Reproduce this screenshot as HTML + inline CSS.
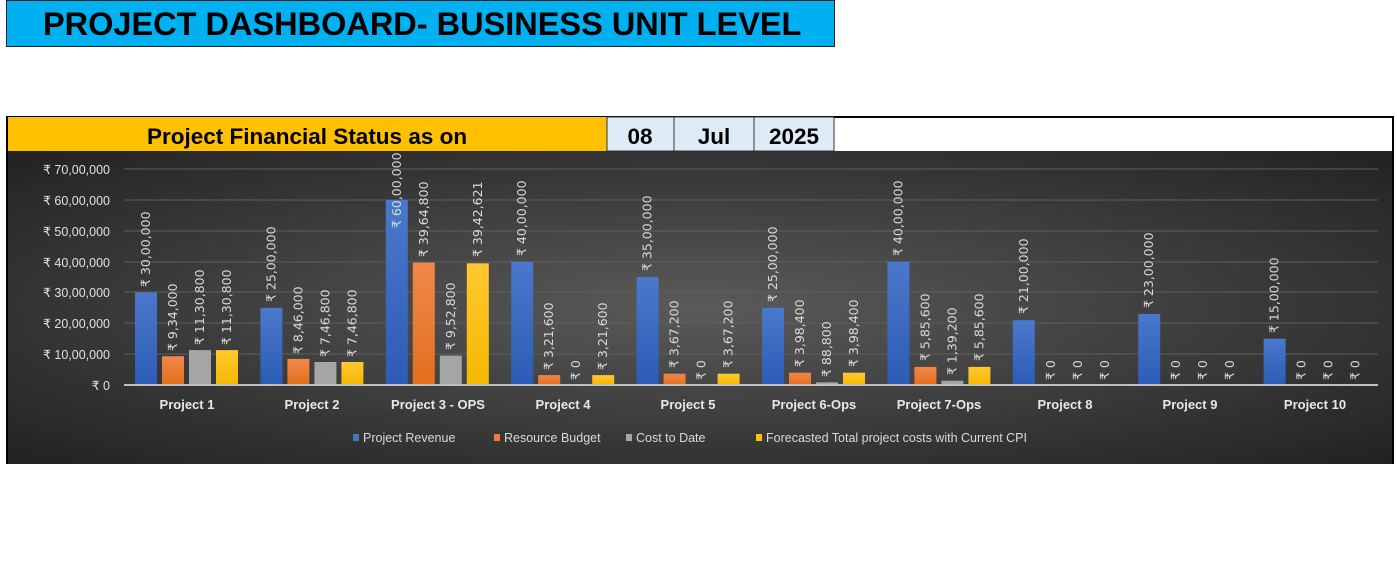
<!DOCTYPE html>
<html><head><meta charset="utf-8"><style>
body{margin:0;background:#fff;width:1397px;height:580px;overflow:hidden;position:relative;font-family:"Liberation Sans",sans-serif}
.t{position:absolute;left:6px;top:0;width:829px;height:47px;background:#00b0f0;border:1px solid #222;font-weight:bold;font-size:32.5px;line-height:47px;padding-left:36px;box-sizing:border-box;color:#000;white-space:nowrap}
</style></head><body>
<div class="t">PROJECT DASHBOARD- BUSINESS UNIT LEVEL</div>
<svg width="1397" height="580" style="position:absolute;left:0;top:0" font-family="Liberation Sans, sans-serif">
<defs>
<radialGradient id="bg" cx="0.5" cy="0.5" r="0.7">
<stop offset="0" stop-color="#5a5a5a"/><stop offset="1" stop-color="#222"/></radialGradient>
<linearGradient id="bl" x1="0" y1="0" x2="0" y2="1"><stop offset="0" stop-color="#4a78cc"/><stop offset="1" stop-color="#2c5cb5"/></linearGradient>
<linearGradient id="or" x1="0" y1="0" x2="0" y2="1"><stop offset="0" stop-color="#f0884a"/><stop offset="1" stop-color="#e36f1e"/></linearGradient>
<linearGradient id="ye" x1="0" y1="0" x2="0" y2="1"><stop offset="0" stop-color="#ffc830"/><stop offset="1" stop-color="#f5b800"/></linearGradient>
</defs>
<path d="M7 464 V117 H1393 V464" fill="#fff" stroke="#000" stroke-width="2"/>
<rect x="8" y="151" width="1384" height="313" fill="url(#bg)"/>
<rect x="8" y="117" width="599" height="34" fill="#ffc000"/>
<rect x="607" y="117" width="227" height="34" fill="#ddebf7" stroke="#333" stroke-width="1"/>
<line x1="674" y1="117" x2="674" y2="151" stroke="#333"/><line x1="754" y1="117" x2="754" y2="151" stroke="#333"/>
<g font-weight="bold" font-size="22.5" fill="#000">
<text x="147" y="144">Project Financial Status as on</text>
<text x="640" y="144" text-anchor="middle">08</text>
<text x="714" y="144" text-anchor="middle">Jul</text>
<text x="794" y="144" text-anchor="middle">2025</text>
</g>
<g stroke="#5e5e5e" stroke-width="1">
<line x1="124" x2="1378" y1="169" y2="169"/><line x1="124" x2="1378" y1="200" y2="200"/><line x1="124" x2="1378" y1="231" y2="231"/><line x1="124" x2="1378" y1="262" y2="262"/><line x1="124" x2="1378" y1="292" y2="292"/><line x1="124" x2="1378" y1="323" y2="323"/><line x1="124" x2="1378" y1="354" y2="354"/>
</g>
<g font-size="12.5" fill="#e0e0e0" text-anchor="end">
<text x="110" y="174">₹ 70,00,000</text><text x="110" y="205">₹ 60,00,000</text><text x="110" y="236">₹ 50,00,000</text><text x="110" y="267">₹ 40,00,000</text><text x="110" y="297">₹ 30,00,000</text><text x="110" y="328">₹ 20,00,000</text><text x="110" y="359">₹ 10,00,000</text><text x="110" y="390">₹ 0</text>
</g>
<g>
<rect x="135" y="292.4" width="22" height="92.6" fill="url(#bl)"/><rect x="162" y="356.2" width="22" height="28.8" fill="url(#or)"/><rect x="189" y="350.1" width="22" height="34.9" fill="#a5a5a5"/><rect x="216" y="350.1" width="22" height="34.9" fill="url(#ye)"/>
<rect x="260.4" y="307.8" width="22" height="77.2" fill="url(#bl)"/><rect x="287.4" y="358.9" width="22" height="26.1" fill="url(#or)"/><rect x="314.4" y="362" width="22" height="23" fill="#a5a5a5"/><rect x="341.4" y="362" width="22" height="23" fill="url(#ye)"/>
<rect x="385.8" y="199.8" width="22" height="185.2" fill="url(#bl)"/><rect x="412.8" y="262.6" width="22" height="122.4" fill="url(#or)"/><rect x="439.8" y="355.6" width="22" height="29.4" fill="#a5a5a5"/><rect x="466.8" y="263.3" width="22" height="121.7" fill="url(#ye)"/>
<rect x="511.2" y="261.6" width="22" height="123.4" fill="url(#bl)"/><rect x="538.2" y="375.1" width="22" height="9.9" fill="url(#or)"/><rect x="592.2" y="375.1" width="22" height="9.9" fill="url(#ye)"/>
<rect x="636.6" y="277" width="22" height="108" fill="url(#bl)"/><rect x="663.6" y="373.7" width="22" height="11.3" fill="url(#or)"/><rect x="717.6" y="373.7" width="22" height="11.3" fill="url(#ye)"/>
<rect x="762" y="307.8" width="22" height="77.2" fill="url(#bl)"/><rect x="789" y="372.7" width="22" height="12.3" fill="url(#or)"/><rect x="816" y="382.3" width="22" height="2.7" fill="#a5a5a5"/><rect x="843" y="372.7" width="22" height="12.3" fill="url(#ye)"/>
<rect x="887.4" y="261.6" width="22" height="123.4" fill="url(#bl)"/><rect x="914.4" y="366.9" width="22" height="18.1" fill="url(#or)"/><rect x="941.4" y="380.7" width="22" height="4.3" fill="#a5a5a5"/><rect x="968.4" y="366.9" width="22" height="18.1" fill="url(#ye)"/>
<rect x="1012.8" y="320.2" width="22" height="64.8" fill="url(#bl)"/>
<rect x="1138.2" y="314" width="22" height="71" fill="url(#bl)"/>
<rect x="1263.6" y="338.7" width="22" height="46.3" fill="url(#bl)"/>
</g>
<line x1="124" x2="1378" y1="385" y2="385" stroke="#bfbfbf" stroke-width="2"/>
<g font-family="DejaVu Sans, sans-serif" font-size="12.5" fill="#d9d9d9">
<text transform="translate(150,287) rotate(-90)">₹ 30,00,000</text>
<text transform="translate(177,351) rotate(-90)">₹ 9,34,000</text>
<text transform="translate(204,345) rotate(-90)">₹ 11,30,800</text>
<text transform="translate(231,345) rotate(-90)">₹ 11,30,800</text>
<text transform="translate(275.4,302) rotate(-90)">₹ 25,00,000</text>
<text transform="translate(302.4,354) rotate(-90)">₹ 8,46,000</text>
<text transform="translate(329.4,357) rotate(-90)">₹ 7,46,800</text>
<text transform="translate(356.4,357) rotate(-90)">₹ 7,46,800</text>
<text transform="translate(400.8,228) rotate(-90)">₹ 60,00,000</text>
<text transform="translate(427.8,257) rotate(-90)">₹ 39,64,800</text>
<text transform="translate(454.8,350) rotate(-90)">₹ 9,52,800</text>
<text transform="translate(481.8,257) rotate(-90)">₹ 39,42,621</text>
<text transform="translate(526.2,256) rotate(-90)">₹ 40,00,000</text>
<text transform="translate(553.2,370) rotate(-90)">₹ 3,21,600</text>
<text transform="translate(580.2,380) rotate(-90)">₹ 0</text>
<text transform="translate(607.2,370) rotate(-90)">₹ 3,21,600</text>
<text transform="translate(651.6,271) rotate(-90)">₹ 35,00,000</text>
<text transform="translate(678.6,368) rotate(-90)">₹ 3,67,200</text>
<text transform="translate(705.6,380) rotate(-90)">₹ 0</text>
<text transform="translate(732.6,368) rotate(-90)">₹ 3,67,200</text>
<text transform="translate(777,302) rotate(-90)">₹ 25,00,000</text>
<text transform="translate(804,367) rotate(-90)">₹ 3,98,400</text>
<text transform="translate(831,377) rotate(-90)">₹ 88,800</text>
<text transform="translate(858,367) rotate(-90)">₹ 3,98,400</text>
<text transform="translate(902.4,256) rotate(-90)">₹ 40,00,000</text>
<text transform="translate(929.4,361) rotate(-90)">₹ 5,85,600</text>
<text transform="translate(956.4,375) rotate(-90)">₹ 1,39,200</text>
<text transform="translate(983.4,361) rotate(-90)">₹ 5,85,600</text>
<text transform="translate(1027.8,314) rotate(-90)">₹ 21,00,000</text>
<text transform="translate(1054.8,380) rotate(-90)">₹ 0</text>
<text transform="translate(1081.8,380) rotate(-90)">₹ 0</text>
<text transform="translate(1108.8,380) rotate(-90)">₹ 0</text>
<text transform="translate(1153.2,308) rotate(-90)">₹ 23,00,000</text>
<text transform="translate(1180.2,380) rotate(-90)">₹ 0</text>
<text transform="translate(1207.2,380) rotate(-90)">₹ 0</text>
<text transform="translate(1234.2,380) rotate(-90)">₹ 0</text>
<text transform="translate(1278.6,333) rotate(-90)">₹ 15,00,000</text>
<text transform="translate(1305.6,380) rotate(-90)">₹ 0</text>
<text transform="translate(1332.6,380) rotate(-90)">₹ 0</text>
<text transform="translate(1359.6,380) rotate(-90)">₹ 0</text>
</g>
<g font-size="13" font-weight="bold" fill="#e8e8e8" text-anchor="middle">
<text x="187" y="409">Project 1</text><text x="312" y="409">Project 2</text><text x="438" y="409">Project 3 - OPS</text><text x="563" y="409">Project 4</text><text x="688" y="409">Project 5</text><text x="814" y="409">Project 6-Ops</text><text x="939" y="409">Project 7-Ops</text><text x="1065" y="409">Project 8</text><text x="1190" y="409">Project 9</text><text x="1315" y="409">Project 10</text>
</g>
<g font-size="12.5" fill="#d9d9d9">
<rect x="353" y="434" width="6" height="7" fill="#4472c4"/><text x="363" y="442">Project Revenue</text>
<rect x="494" y="434" width="6" height="7" fill="#ed7d31"/><text x="504" y="442">Resource Budget</text>
<rect x="626" y="434" width="6" height="7" fill="#a5a5a5"/><text x="636" y="442">Cost to Date</text>
<rect x="756" y="434" width="6" height="7" fill="#ffc000"/><text x="766" y="442">Forecasted Total project costs with Current CPI</text>
</g>
</svg>
</body></html>
